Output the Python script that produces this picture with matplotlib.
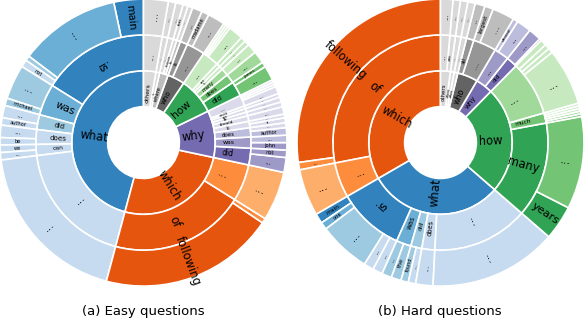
import numpy as np
import matplotlib
matplotlib.use("Agg")
import matplotlib.pyplot as plt

# ---------------- Easy questions ----------------
easy_l1 = ["what", "which", "why", "how", "who", "where", "is", "others"]
easy_l1_size = [165, 93, 38, 30, 14, 7, 3, 10]

easy_l2 = {
    "what": (["is", "was", "did", "does", "can", "..."], [58, 17, 8, 8, 6, 68]),
    "which": (["of", "..."], [73, 20]),
    "why": (["did", "was", "does", "is", "should", "do", "are", "would", "..."],
            [9, 6, 5, 3.5, 3, 2, 2, 1.5, 6]),
    "how": (["did", "does", "many", "is", "are", "..."], [8, 5, 4, 2, 2, 9]),
    "who": (["...", "is"], [10, 4]),
    "where": (["to", "reason", "..."], [2, 2, 3]),
    "is": (["..."], [3]),
    "others": (["..."], [10]),
}

easy_l3 = {
    ("what", "is"): (["main", "...", "", "not"], [12, 41, 2, 3]),
    ("what", "was"): (["...", "michael"], [14, 3]),
    ("what", "did"): (["...", "author"], [5, 3]),
    ("what", "does"): (["...", "be"], [5, 3]),
    ("what", "can"): (["we", "..."], [3, 3]),
    ("what", "..."): (["..."], [68]),
    ("which", "of"): (["following", "..."], [71, 2]),
    ("which", "..."): (["..."], [20]),
    ("why", "did"): (["...", "not"], [6, 3]),
    ("why", "was"): (["john", "..."], [3, 3]),
    ("why", "does"): (["author", "..."], [3, 2]),
    ("why", "is"): (["it", "..."], [2, 1.5]),
    ("why", "should"): (["..."], [3]),
    ("why", "do"): (["..."], [2]),
    ("why", "are"): (["..."], [2]),
    ("why", "would"): (["..."], [1.5]),
    ("why", "..."): (["...", "", "", ""], [3, 1, 1, 1]),
    ("how", "did"): (["...", "james"], [6, 2]),
    ("how", "does"): (["..."], [5]),
    ("how", "many"): (["..."], [4]),
    ("how", "is"): (["..."], [2]),
    ("how", "are"): (["..."], [2]),
    ("how", "..."): (["...", "", "", ""], [6, 1, 1, 1]),
    ("who", "..."): (["...", "madame"], [7, 3]),
    ("who", "is"): (["..."], [4]),
    ("where", "to"): (["..."], [2]),
    ("where", "reason"): (["stat"], [2]),
    ("where", "..."): (["..."], [3]),
    ("is", "..."): (["..."], [3]),
    ("others", "..."): (["..."], [10]),
}

# ---------------- Hard questions ----------------
hard_l1 = ["which", "what", "how", "why", "who", "when", "where", "others"]
hard_l1_size = [120, 109, 86.5, 14, 16.5, 3, 3, 8]

hard_l2 = {
    "which": (["of", "..."], [101, 19]),
    "what": (["is", "was", "did", "does", "..."], [36, 8, 6, 7, 52]),
    "how": (["many", "much", "..."], [51.5, 5.5, 29.5]),
    "why": (["did", "..."], [6, 8]),
    "who": (["...", "all"], [12.5, 4]),
    "when": (["..."], [3]),
    "where": (["..."], [3]),
    "others": (["are", "..."], [3, 5]),
}

hard_l3 = {
    ("which", "of"): (["following", "..."], [98, 3]),
    ("which", "..."): (["..."], [19]),
    ("what", "is"): (["main", "one", "...", "...", "..."], [4, 3, 21, 4, 4]),
    ("what", "was"): (["...", "the"], [4, 4]),
    ("what", "did"): (["found", "..."], [3, 3]),
    ("what", "does"): (["..."], [7]),
    ("what", "..."): (["..."], [52]),
    ("how", "many"): (["years", "..."], [14, 37.5]),
    ("how", "much"): (["", "", "", "", ""], [1.1, 1.1, 1.1, 1.1, 1.1]),
    ("how", "..."): (["...", "", "", ""], [23, 2, 2, 2.5]),
    ("why", "did"): (["", "..."], [0.8, 5.2]),
    ("why", "..."): (["...", "denied"], [6, 2]),
    ("who", "..."): (["...", "largest"], [9, 3.5]),
    ("who", "all"): (["..."], [4]),
    ("when", "..."): (["..."], [3]),
    ("where", "..."): (["..."], [3]),
    ("others", "are"): (["..."], [3]),
    ("others", "..."): (["..."], [5]),
}

# tab20c colour groups, dark -> light
palette = {
    "blue": ["#3182bd", "#6baed6", "#9ecae1", "#c6dbef"],
    "orange": ["#e6550d", "#fd8d3c", "#fdae6b", "#fdd0a2"],
    "green": ["#31a354", "#74c476", "#a1d99b", "#c7e9c0"],
    "purple": ["#756bb1", "#9e9ac8", "#bcbddc", "#dadaeb"],
    "grey": ["#636363", "#969696", "#bdbdbd", "#d9d9d9"],
}
easy_groups = {"what": ("blue", 0), "which": ("orange", 0), "why": ("purple", 0),
               "how": ("green", 0), "who": ("grey", 0), "where": ("grey", 2),
               "is": ("grey", 3), "others": ("grey", 3)}
hard_groups = {"which": ("orange", 0), "what": ("blue", 0), "how": ("green", 0),
               "why": ("purple", 0), "who": ("grey", 0), "when": ("grey", 3),
               "where": ("grey", 3), "others": ("grey", 3)}

# radius at which each ring's labels sit
label_r = {0.5: 0.35, 0.75: 0.595, 1.0: 0.88}


def child_shade(parent, i, label):
    s = min(parent + i, 3)
    if label == "...":
        s = max(s, min(parent + 1, 3))
    return s


def add_labels(ax, wedges, labels):
    for w, lab in zip(wedges, labels):
        if not lab:
            continue
        span = w.theta2 - w.theta1
        mid = (w.theta1 + w.theta2) / 2
        r = label_r[w.r]
        arc = (w.r - w.width / 2) * 143.5 * np.deg2rad(span)   # arc length in px
        fs = float(np.clip(1.45 * np.sqrt(arc), 2.0, 8.3))
        m = mid % 360
        rot = m if (m <= 90 or m >= 270) else m - 180
        ax.text(r * np.cos(np.deg2rad(mid)), r * np.sin(np.deg2rad(mid)), lab,
                rotation=rot, rotation_mode="anchor", ha="center", va="center",
                fontsize=fs, clip_on=False)


def sunburst(ax, l1, l1_size, l2, l3, groups):
    wp = dict(width=0.25, edgecolor="white", linewidth=1.2)
    cols1 = [palette[groups[k][0]][groups[k][1]] for k in l1]
    w1, _ = ax.pie(l1_size, radius=0.5, startangle=90, counterclock=True,
                   colors=cols1, wedgeprops=wp)
    add_labels(ax, w1, l1)

    lab2, val2, col2, key2 = [], [], [], []
    for p, s in zip(l1, l1_size):
        g, sh = groups[p]
        labs, vals = l2[p]
        vals = np.array(vals, float) / sum(vals) * s
        for i, (lb, v) in enumerate(zip(labs, vals)):
            c = child_shade(sh, i, lb)
            lab2.append(lb); val2.append(v); col2.append((g, c)); key2.append((p, lb))
    w2, _ = ax.pie(val2, radius=0.75, startangle=90, counterclock=True,
                   colors=[palette[g][c] for g, c in col2], wedgeprops=wp)
    add_labels(ax, w2, lab2)

    lab3, val3, col3 = [], [], []
    for k, s, (g, sh) in zip(key2, val2, col2):
        labs, vals = l3[k]
        vals = np.array(vals, float) / sum(vals) * s
        for i, (lb, v) in enumerate(zip(labs, vals)):
            lab3.append(lb); val3.append(v); col3.append(palette[g][child_shade(sh, i, lb)])
    w3, _ = ax.pie(val3, radius=1.0, startangle=90, counterclock=True,
                   colors=col3, wedgeprops=wp)
    add_labels(ax, w3, lab3)

    ax.set_xlim(-1, 1)
    ax.set_ylim(-1, 1)
    ax.set_aspect("equal")
    ax.axis("off")


fig = plt.figure(figsize=(5.84, 3.2), dpi=100)
ax1 = fig.add_axes([0.0, 0.106, 287 / 584, 287 / 320])
ax2 = fig.add_axes([297 / 584, 0.106, 287 / 584, 287 / 320])
sunburst(ax1, easy_l1, easy_l1_size, easy_l2, easy_l3, easy_groups)
sunburst(ax2, hard_l1, hard_l1_size, hard_l2, hard_l3, hard_groups)

fig.text(143 / 584, 1 - 311 / 320, "(a) Easy questions", ha="center", va="center", fontsize=9.5)
fig.text(440 / 584, 1 - 311 / 320, "(b) Hard questions", ha="center", va="center", fontsize=9.5)

fig.savefig("out.png", dpi=100)
